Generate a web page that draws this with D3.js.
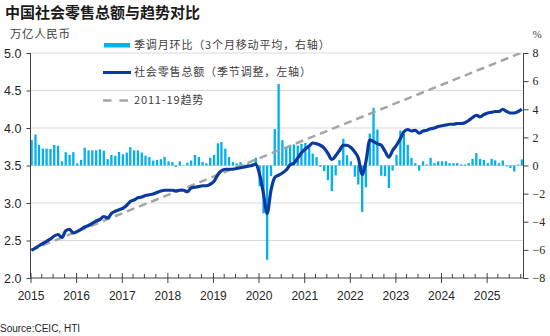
<!DOCTYPE html>
<html><head><meta charset="utf-8">
<script src="https://cdn.jsdelivr.net/npm/d3@7"></script>
<style>
body{margin:0;background:#fff;}
svg{display:block;}
</style></head>
<body>
<svg id="c" width="550" height="336"></svg>
<script>
// ---- data ----
const startYear = 2015, startMonth = 0; // monthly series begin Jan 2015
const momValues = [1.81,2.2,1.46,1.2,1.2,1.18,1.46,1.4,0.3,0.95,0.75,0.95,
0.15,0.4,1.27,1.08,1.08,1.08,1.15,1.05,0.45,0.75,0.7,0.96,
0.8,0.92,1.3,1.08,1.08,0.92,0.7,0.6,0.35,0.4,0.45,0.62,
0.3,0.25,-0.1,0.3,0.03,0.2,0.35,0.75,0.6,0.25,0.15,0.55,
0.75,1.58,1.67,1.2,0.6,0.25,0.15,0.24,0.07,0.14,0.14,0.55,
-1.47,-3.41,-6.7,-0.76,2.6,5.8,1.8,1.26,1.45,1.5,1.42,1.54,
1.6,1.26,0.85,0.6,-0.1,-0.4,-1.04,-1.82,-0.7,0.38,1.9,0.73,
0.3,-0.8,-1.35,-3.3,-1.55,2.27,4.1,2.56,-0.73,-0.76,-1.6,-0.36,
0.75,2.49,2.25,1.47,0.55,0.17,-0.36,0.3,0.07,0.55,0.17,0.3,
0.3,0.3,0.17,0.17,0.17,0.07,0.07,0.17,0.47,0.88,0.47,0.4,
0.17,0.47,0.36,0.17,0.36,-0.07,-0.17,-0.43,0.07,0.43];
const salesValues = [2.37,2.40,2.43,2.46,2.49,2.52,2.56,2.58,2.54,2.63,2.65,2.60,
2.62,2.65,2.68,2.70,2.73,2.76,2.78,2.82,2.80,2.86,2.89,2.91,
2.93,2.97,3.02,3.04,3.07,3.08,3.10,3.11,3.12,3.14,3.16,3.17,
3.17,3.17,3.16,3.17,3.17,3.15,3.20,3.21,3.22,3.23,3.23,3.25,
3.29,3.38,3.43,3.45,3.45,3.45,3.46,3.47,3.48,3.49,3.50,3.52,
3.38,3.12,2.86,3.17,3.34,3.37,3.40,3.44,3.51,3.53,3.60,3.67,
3.72,3.76,3.80,3.79,3.77,3.73,3.66,3.58,3.63,3.70,3.77,3.77,
3.74,3.68,3.60,3.38,3.55,3.84,3.82,3.79,3.77,3.69,3.61,3.70,
3.77,3.86,3.95,3.98,3.96,3.97,3.93,3.96,3.97,3.99,4.00,4.02,
4.03,4.04,4.05,4.05,4.06,4.06,4.07,4.10,4.14,4.17,4.15,4.18,
4.20,4.21,4.22,4.22,4.25,4.22,4.20,4.20,4.22,4.25];
const trendDates = ["2015-01","2025-10"];
const trendValues = [2.37, 5.0];
const leftTicks = [2.0,2.5,3.0,3.5,4.0,4.5,5.0];
const rightTicks = [-8,-6,-4,-2,0,2,4,6,8];
const yearLabels = ["2015","2016","2017","2018","2019","2020","2021","2022","2023","2024","2025"];
const legendLabels = ["季调月环比（3个月移动平均，右轴）","社会零售总额（季节调整，左轴）","2011-19趋势"];

// ---- layout ----
const svg = d3.select("#c");
const L = 30.5, R = 523.5, T = 53, B = 278;
const x = d3.scaleTime().domain([new Date(2015,0,1), new Date(2025,9,23)]).range([L,R]);
const yL = d3.scaleLinear().domain([2,5]).range([B,T]);
const yR = d3.scaleLinear().domain([-8,8]).range([B,T]);
const monthDate = i => new Date(startYear, startMonth + i, 10);
const parseYM = d3.timeParse("%Y-%m");

const sans = "'Liberation Sans', Arial, sans-serif";
const cjk = "'Noto Sans CJK SC', 'Noto Sans', sans-serif";
const serif = "'Liberation Serif', 'Times New Roman', serif";

// title
svg.append("text").attr("x",5).attr("y",18).attr("font-family",cjk).attr("font-weight",700)
  .attr("font-size",15).attr("fill","#1a1a1a").text("中国社会零售总额与趋势对比");
svg.append("text").attr("x",10).attr("y",38).attr("font-family",cjk)
  .attr("font-size",11.5).attr("letter-spacing",0.6).attr("fill","#404040").text("万亿人民币");
svg.append("text").attr("x",537).attr("y",38).attr("text-anchor","middle").attr("font-family",serif)
  .attr("font-size",11).attr("fill","#404040").text("%");

// gridlines
svg.append("g").selectAll("line").data(leftTicks.filter(d=>d>2)).join("line")
  .attr("x1",L).attr("x2",R).attr("y1",d=>yL(d)).attr("y2",d=>yL(d))
  .attr("stroke","#d9d9d9").attr("stroke-width",1);

// bars
const bw = 2.3;
svg.append("g").selectAll("rect").data(momValues).join("rect")
  .attr("x",(d,i)=>x(monthDate(i))-bw/2).attr("width",bw)
  .attr("y",d=>Math.min(yR(d),yR(0))).attr("height",d=>Math.abs(yR(d)-yR(0)))
  .attr("fill","#00b0f0");

// clip
svg.append("clipPath").attr("id","pc").append("rect").attr("x",L).attr("y",T).attr("width",R-L).attr("height",B-T);

// trend
const trendData = trendDates.map((d,i)=>({d:parseYM(d),v:trendValues[i]}));
svg.append("path").datum(trendData).attr("clip-path","url(#pc)")
  .attr("d",d3.line().x(d=>x(d.d)).y(d=>yL(d.v)))
  .attr("fill","none").attr("stroke","#a5a5a5").attr("stroke-width",2.5).attr("stroke-dasharray","8,5");

// sales line
svg.append("path").datum(salesValues)
  .attr("d",d3.line().x((d,i)=>x(monthDate(i))).y(d=>yL(d)).curve(d3.curveMonotoneX))
  .attr("fill","none").attr("stroke","#0b3a9e").attr("stroke-width",3.2).attr("stroke-linejoin","round");

// axes
const axisColor = "#404040";
const gL = svg.append("g").attr("transform",`translate(${L},0)`)
  .call(d3.axisLeft(yL).tickValues(leftTicks).tickFormat(d3.format(".1f")).tickSize(4).tickPadding(5));
gL.selectAll("text").attr("font-family",sans).attr("font-size",12.5).attr("fill","#262626");
const gR = svg.append("g").attr("transform",`translate(${R},0)`)
  .call(d3.axisRight(yR).tickValues(rightTicks).tickSize(5).tickPadding(4));
gR.selectAll("text").attr("font-family",serif).attr("font-size",12).attr("fill","#262626");

const years = yearLabels.map(s=>new Date(+s,0,1));
const gX = svg.append("g").attr("transform",`translate(0,${B})`)
  .call(d3.axisBottom(x).tickValues(years).tickFormat((d,i)=>yearLabels[i]).tickSize(5).tickPadding(8));
gX.selectAll("text").attr("font-family",sans).attr("font-size",12).attr("fill","#262626");
gX.selectAll(".tick line").attr("y1",-5);
const quarters = d3.timeMonth.every(3).range(new Date(2015,0,1), x.domain()[1]).filter(d=>d.getMonth()!==0);
gX.append("g").selectAll("line").data(quarters).join("line")
  .attr("x1",d=>x(d)).attr("x2",d=>x(d)).attr("y1",0).attr("y2",-4).attr("stroke",axisColor);
[gL,gR,gX].forEach(g=>{g.selectAll(".domain,line").attr("stroke",axisColor);});
gX.select(".domain").attr("d",`M${L},0H${R}`);
gL.select(".domain").attr("d",`M0,${T}V${B}`);
gR.select(".domain").attr("d",`M0,${T}V${B}`);

// legend
const lg = svg.append("g");
lg.append("rect").attr("x",104).attr("y",43).attr("width",26).attr("height",4.5).attr("fill","#00b0f0");
lg.append("line").attr("x1",103).attr("x2",131).attr("y1",72.5).attr("y2",72.5).attr("stroke","#0b3a9e").attr("stroke-width",3);
lg.append("line").attr("x1",103).attr("x2",129).attr("y1",100.5).attr("y2",100.5).attr("stroke","#a5a5a5").attr("stroke-width",2.5).attr("stroke-dasharray","8.5,8");
lg.selectAll("text").data(legendLabels).join("text")
  .attr("x",134).attr("y",(d,i)=>[45,72.5,100][i]).attr("dy","0.35em")
  .attr("font-family",cjk).attr("font-size",11).attr("letter-spacing",0.85).attr("fill","#404040").text(d=>d);

// source
svg.append("text").attr("x",0).attr("y",332).attr("font-family",sans).attr("font-size",10)
  .attr("fill","#262626").text("Source:CEIC, HTI");
</script>
</body></html>
